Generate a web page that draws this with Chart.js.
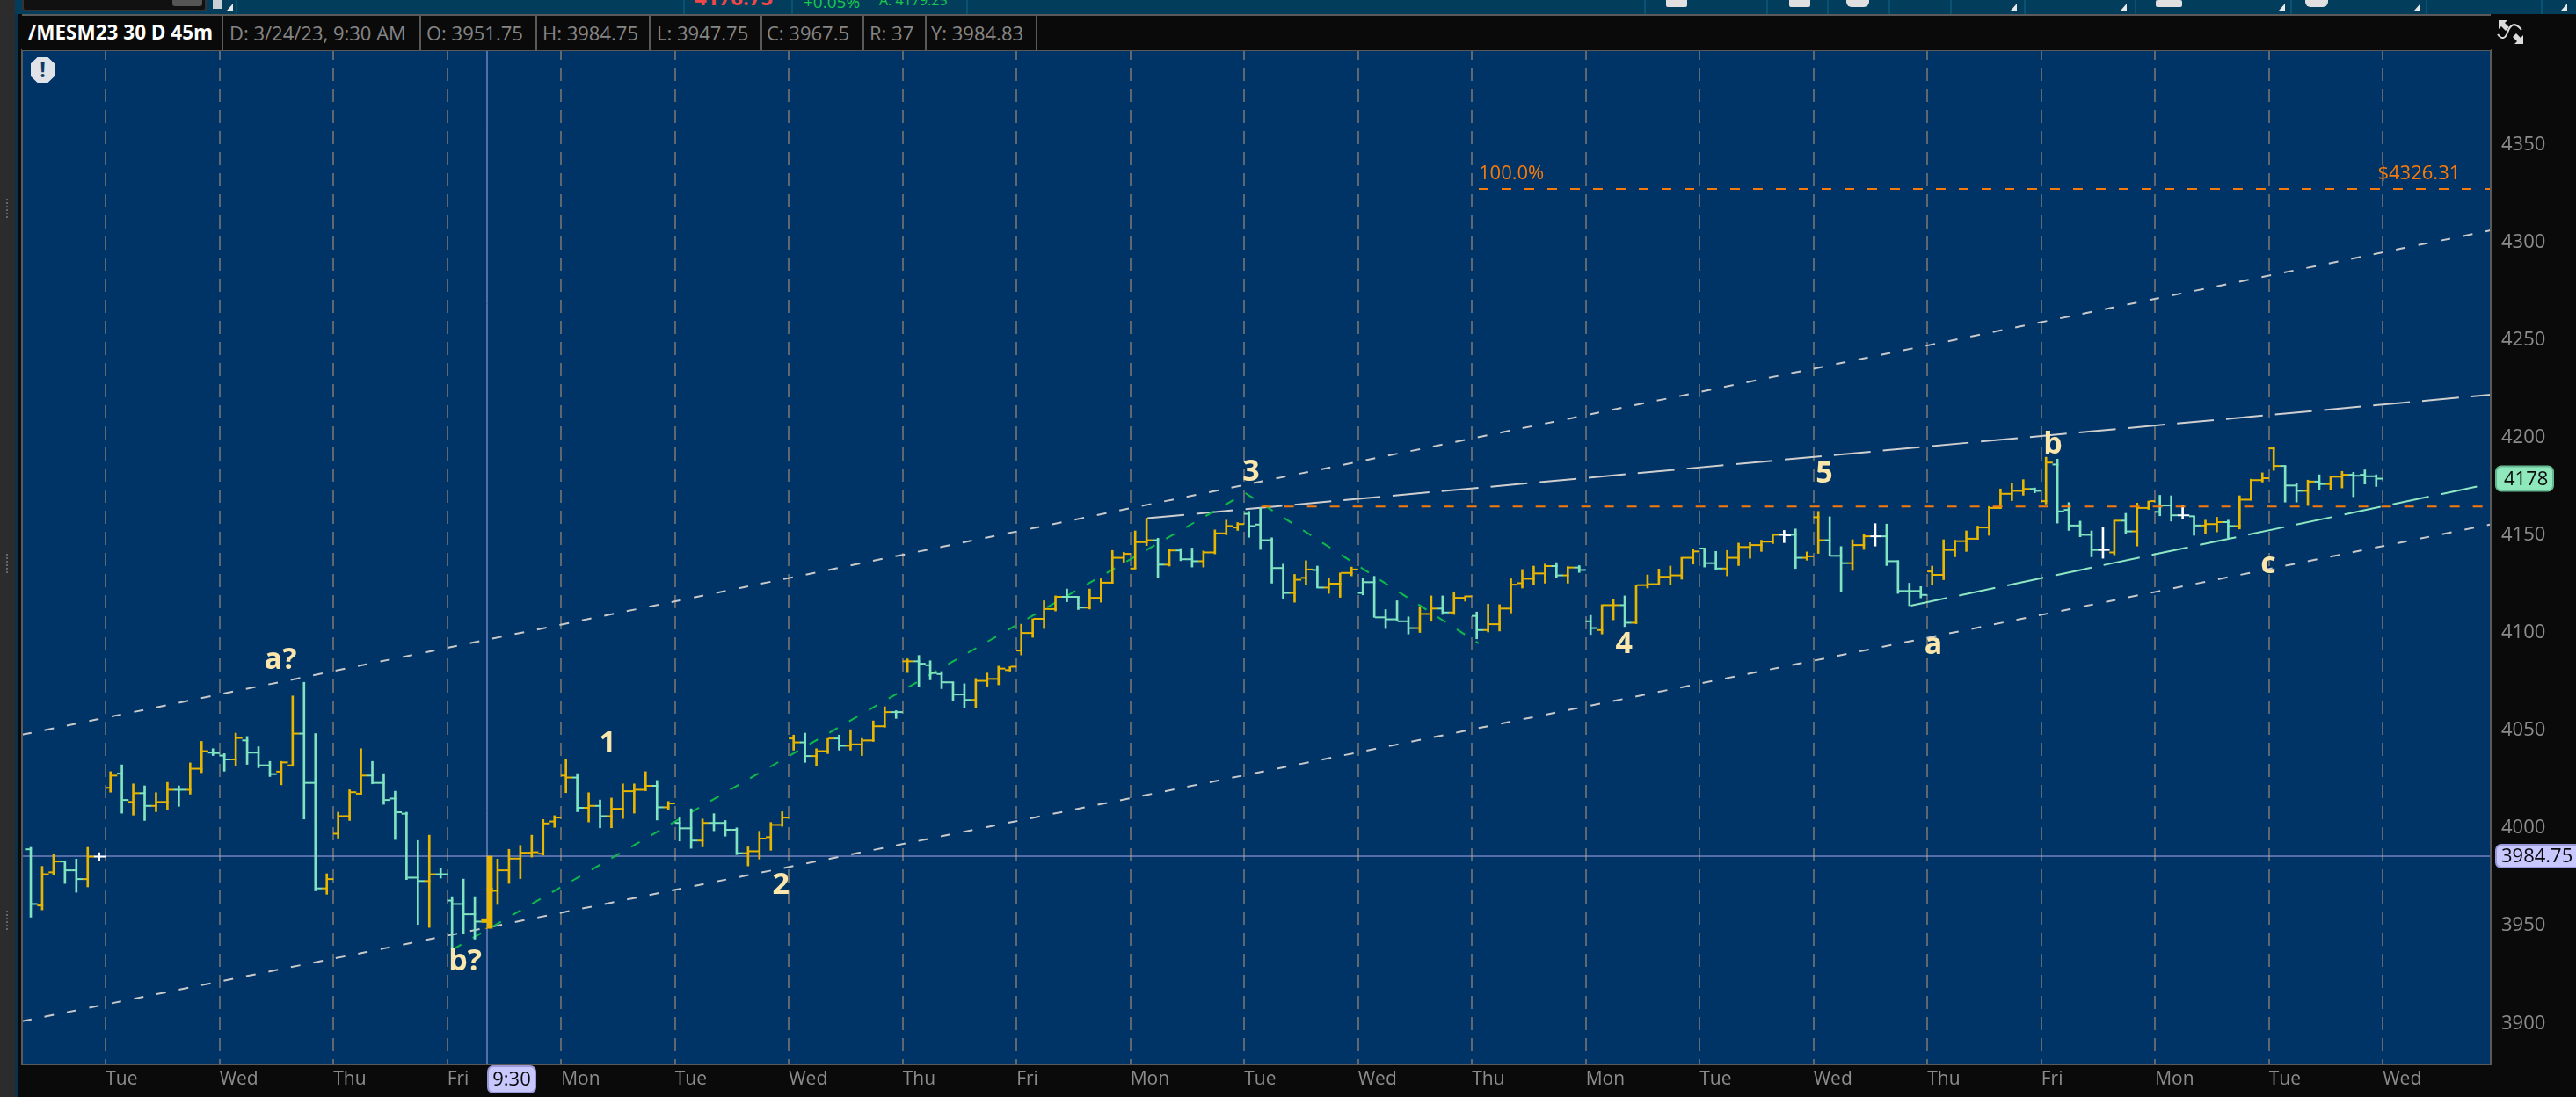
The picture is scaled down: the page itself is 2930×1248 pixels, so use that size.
<!DOCTYPE html>
<html>
<head>
<meta charset="utf-8">
<title>/MESM23 30 D 45m</title>
<script src="https://cdn.jsdelivr.net/npm/chart.js@4"></script>
<style>
  html, body { margin: 0; padding: 0; background: #0a0a0a; overflow: hidden; width: 2930px; height: 1248px; }
  body { position: relative; font-family: 'Open Sans', sans-serif; }
  canvas { position: absolute; left: 0; top: 0; }
  .abs { position: absolute; }
  #toolbar { position: absolute; left: 0; top: 0; width: 2930px; height: 16px; background: #033d5c; overflow: hidden; }
  #header { position: absolute; left: 25px; top: 16px; width: 2808px; height: 39px; background: #0a0a0a; border-top: 2px solid #5a5a5a; }
  #header span { position: absolute; top: 0; line-height: 38px; font-size: 22px; color: #858585; white-space: nowrap; }
  #header i { position: absolute; top: 0; width: 2px; height: 39px; background: #5a5a5a; }
</style>
</head>
<body>
<canvas id="chart" width="2930" height="1248"></canvas>

<div id="toolbar">
  <div class="abs" style="left:25px;top:-6px;width:206px;height:15px;background:#111;border:2px solid #333;border-radius:4px"></div>
  <div class="abs" style="left:196px;top:-4px;width:34px;height:11px;background:#555;border-radius:3px"></div>
  <div class="abs" style="left:790px;top:-20px;font-size:24px;font-weight:700;color:#f04848">4176.75</div>
  <div class="abs" style="left:914px;top:-11px;font-size:19px;color:#19c94a">+0.05%</div>
  <div class="abs" style="left:1000px;top:-11px;font-size:16px;color:#19c94a">A: 4179.25</div>
  <div class="abs" style="left:268px;top:0;width:2px;height:16px;background:#0a5272"></div>
  <div class="abs" style="left:777px;top:0;width:2px;height:16px;background:#0a5272"></div>
  <div class="abs" style="left:900px;top:0;width:2px;height:16px;background:#0a5272"></div>
  <div class="abs" style="left:1099px;top:0;width:2px;height:16px;background:#0a5272"></div>
  <div class="abs" style="left:1870px;top:0;width:2px;height:16px;background:#0a5272"></div>
  <div class="abs" style="left:2009px;top:0;width:2px;height:16px;background:#0a5272"></div>
  <div class="abs" style="left:2078px;top:0;width:2px;height:16px;background:#0a5272"></div>
  <div class="abs" style="left:2148px;top:0;width:2px;height:16px;background:#0a5272"></div>
  <div class="abs" style="left:2218px;top:0;width:2px;height:16px;background:#0a5272"></div>
  <div class="abs" style="left:2302px;top:0;width:2px;height:16px;background:#0a5272"></div>
  <div class="abs" style="left:2428px;top:0;width:2px;height:16px;background:#0a5272"></div>
  <div class="abs" style="left:2605px;top:0;width:2px;height:16px;background:#0a5272"></div>
  <div class="abs" style="left:2759px;top:0;width:2px;height:16px;background:#0a5272"></div>
  <div class="abs" style="left:2890px;top:0;width:2px;height:16px;background:#0a5272"></div>
  <div class="abs" style="left:1895px;top:-4px;width:24px;height:12px;background:#e0e0e0;border-radius:2px"></div>
  <div class="abs" style="left:2035px;top:-4px;width:24px;height:12px;background:#e0e0e0;border-radius:2px"></div>
  <div class="abs" style="left:2100px;top:-4px;width:26px;height:12px;background:#e0e0e0;border-radius:0 0 6px 6px"></div>
  <div class="abs" style="left:2452px;top:0;width:30px;height:8px;background:#e0e0e0;border-radius:2px"></div>
  <div class="abs" style="left:2622px;top:-4px;width:26px;height:12px;background:#e0e0e0;border-radius:0 0 6px 6px"></div>
  <svg class="abs" style="left:0;top:0" width="2930" height="16">
    <path d="M242 0h10v10h-10z M247 3h5v5h-5z" fill="#c8d0d6"/>
    <path d="M258 12l7-8v8z M2287 12l7-8v8z M2412 12l7-8v8z M2592 12l7-8v8z M2746 12l7-8v8z M2913 12l7-8v8z" fill="#e8e8e8"/>
  </svg>
</div>

<div id="header">
  <span style="left:7px;font-weight:700;color:#fff;font-size:22.5px">/MESM23 30 D 45m</span><i style="left:227px"></i>
  <span style="left:236px">D: 3/24/23, 9:30 AM</span><i style="left:452px"></i>
  <span style="left:460px">O: 3951.75</span><i style="left:584px"></i>
  <span style="left:592px">H: 3984.75</span><i style="left:713px"></i>
  <span style="left:722px">L: 3947.75</span><i style="left:840px"></i>
  <span style="left:847px">C: 3967.5</span><i style="left:956px"></i>
  <span style="left:964px">R: 37</span><i style="left:1027px"></i>
  <span style="left:1034px">Y: 3984.83</span><i style="left:1153px"></i>
</div>

<div class="abs" style="left:0;top:0;width:17px;height:1248px;background:#2c2c2c"></div>
<div class="abs" style="left:17px;top:16px;width:3px;height:1232px;background:#0b3248"></div>
<div class="abs" style="left:7px;top:226px;width:3px;height:22px;border-left:2px dotted #666"></div>
<div class="abs" style="left:7px;top:630px;width:3px;height:22px;border-left:2px dotted #666"></div>
<div class="abs" style="left:7px;top:1036px;width:3px;height:22px;border-left:2px dotted #666"></div>

<!-- alert badge -->
<div class="abs" style="left:35px;top:65px;width:27px;height:29px;background:#dfe3e8;clip-path:polygon(28% 0,72% 0,100% 25%,100% 75%,72% 100%,28% 100%,0 75%,0 25%);
  text-align:center;font-size:23px;line-height:29px;font-weight:700;color:#0f3a66">!</div>

<!-- expand icon in the top right corner -->
<svg class="abs" style="left:2840px;top:20px" width="32" height="32" viewBox="0 0 32 32">
  <path d="M1 1h10l-3 3 5 5-4 4-5-5-3 3z" transform="translate(1,2)" fill="#dcdcdc"/>
  <path d="M30 30h-10l3-3-5-5 4-4 5 5 3-3z" fill="#dcdcdc"/>
  <path d="M1 19c5 7 9 4 11-2s6-12 12-7c2 1 3 3 4 4" fill="none" stroke="#dcdcdc" stroke-width="2"/>
</svg>

<script>
// 45 minute bars
const opens = [
  3988.25, 3959.5, 3976.5, 3982, 3977.5, 3973, 3984.5,
  4019.75, 4027, 4012.5, 4017, 4010.5, 4012.5, 4018.75, 4018.75, 4029.5,
  4037.75, 4036.25, 4034.25, 4044, 4037.75, 4031.25, 4028, 4031.25, 4047.5, 4022.25, 3968.25,
  3996.25, 4005.25, 4016.75, 4026, 4022.25, 4014.25, 4006.5, 3973.75, 3972, 3975.5,
  3962, 3960.25, 3955, 3951.75, 3967, 3977.5, 3983.5, 3986.5, 3986, 4002.5,
  4026, 4025, 4009.5, 4010.5, 4005.25, 4009, 4018, 4018.75, 4020.75, 4009.75,
  4001.75, 3999, 3992.75, 4001.75, 4001.75, 3998.25, 3986.25, 3987.25, 3994.5, 4000.75,
  4045, 4043, 4036, 4038.5, 4045, 4041.25, 4042, 4044, 4051.25, 4058.5,
  4084.5, 4084.5, 4082.5, 4078, 4073.75, 4067.5, 4064.75, 4074.5, 4075.5, 4080,
  4090, 4099, 4106.25, 4111.25, 4117.5, 4117.5, 4112, 4117, 4124.75, 4137.5,
  4132, 4145.5, 4146.5, 4134, 4141.25, 4136.75, 4135.75, 4140.25, 4150, 4153,
  4160, 4154.5, 4146.5, 4132.25, 4119.5, 4127.25, 4131.25, 4122.25, 4124.25, 4129.75,
  4119.5, 4125, 4107, 4106, 4105, 4101.5, 4108.75, 4111.5, 4109.5, 4117,
  4107.75, 4100.5, 4103.5, 4111.5, 4124.5, 4126.75, 4129.5, 4133.25, 4128.5, 4132.5,
  4105, 4100.5, 4113.25, 4113.25, 4104.25, 4123.5, 4124, 4127.75, 4128.5, 4137.5,
  4142.25, 4134.75, 4132, 4137.5, 4143, 4144, 4145.75, 4149.25, 4149.25, 4137.5,
  4158.25, 4146.5, 4138.5, 4134.75, 4144, 4148.5, 4148.5, 4135.75, 4120.5, 4120.5,
  4130.5, 4128.75, 4141.5, 4146, 4147.25, 4153, 4163, 4170.25, 4171.75, 4172.75,
  4166.5, 4185.25, 4162, 4154, 4149.25, 4141.5, 4140.25, 4156.5, 4151, 4163,
  4161, 4164.25, 4159.25, 4158.75, 4154, 4154.75, 4155.75, 4153.75, 4167.25, 4177.25,
  4193.5, 4184.5, 4174.5, 4171.75, 4176.5, 4175.25, 4179, 4180, 4180, 4179.25
];
const highs = [
  3989.25, 3979.5, 3985.75, 3982.25, 3983.25, 3989.25, 3986.5,
  4028, 4031.5, 4021.75, 4020.75, 4017.25, 4022.5, 4020.75, 4032.5, 4043.5,
  4039.75, 4037.25, 4047.75, 4046, 4040.75, 4033.25, 4033.25, 4066.75, 4073.75, 4047.5, 3975.75,
  4007.25, 4018.75, 4039.75, 4033.25, 4027, 4018, 4007.25, 3992.75, 3995.5, 3978.5,
  3964, 3973, 3964, 3984.75, 3983.25, 3988.25, 3990.25, 3995.5, 4003.5, 4005.5,
  4034.5, 4027, 4017.25, 4013.5, 4014.5, 4021.75, 4021.75, 4028, 4023.5, 4012.75,
  4004.5, 4009, 4003.75, 4006.5, 4003, 3999.25, 3989.5, 3997.5, 4002, 4007.5,
  4046.75, 4047.75, 4039.75, 4045, 4046.75, 4049.5, 4045, 4054, 4061.25, 4059.25,
  4085.75, 4087.5, 4084.75, 4079.25, 4073.75, 4073, 4075.75, 4078.5, 4082, 4081.75,
  4103.5, 4106.25, 4115.5, 4118, 4121.5, 4117.75, 4121.5, 4126.75, 4141.25, 4140.25,
  4151.25, 4157.75, 4147.5, 4141.75, 4142.25, 4142.5, 4141, 4151.75, 4156.75, 4155.5,
  4161.25, 4163.25, 4147.75, 4134.25, 4129, 4136, 4133.25, 4127.25, 4129.75, 4132.75,
  4127.25, 4128, 4111, 4115.5, 4107.25, 4112.5, 4118, 4118, 4120, 4118,
  4109.75, 4113.75, 4113.5, 4126.75, 4131.5, 4133.25, 4134.25, 4135, 4133, 4133.5,
  4108, 4113.5, 4116.25, 4118, 4123.5, 4128.75, 4131.75, 4133.25, 4137.75, 4141.75,
  4142.25, 4140.75, 4141.25, 4145, 4145.25, 4146.5, 4149.5, 4151.5, 4152.25, 4140.5,
  4161.25, 4158.5, 4143.25, 4146.75, 4149.5, 4155, 4154.75, 4136, 4124.5, 4122.75,
  4133.25, 4146.75, 4146.5, 4151.25, 4153.75, 4163.75, 4172.75, 4175.75, 4177.5, 4173.25,
  4189, 4188, 4165.75, 4156.25, 4151.25, 4153, 4156.75, 4160.25, 4165.5, 4166.5,
  4169.5, 4169.25, 4164.5, 4158.75, 4156.75, 4158.25, 4156.75, 4169.25, 4177.75, 4181,
  4194.25, 4184.5, 4175.5, 4177.25, 4180, 4179.25, 4181.75, 4181.25, 4182.5, 4180
];
const lows = [
  3953.5, 3957.25, 3975.25, 3970.75, 3966.25, 3969, 3982.5,
  4017.5, 4006.75, 4005.75, 4003, 4007.5, 4008.5, 4010.25, 4016.5, 4027.5,
  4036.25, 4028.25, 4031, 4031.75, 4030, 4025.5, 4021.25, 4030.75, 4003.75, 3967, 3965.25,
  3994, 4003, 4016.5, 4021.75, 4011.25, 3993.25, 3972.75, 3949.75, 3948.25, 3973.5,
  3937, 3945.25, 3942.25, 3947.75, 3960, 3970.75, 3973.25, 3984.25, 3985.25, 3999.5,
  4017.25, 4007.5, 4002.25, 3999.25, 3999.25, 4004, 4006.75, 4018.25, 4003.25, 4008.5,
  3992.5, 3988.75, 3989.5, 3997.75, 3995, 3985.5, 3979.75, 3983.25, 3987.75, 4000,
  4039, 4032.75, 4031, 4037.25, 4039, 4039, 4036.25, 4043.5, 4050.75, 4055.25,
  4078.75, 4071.5, 4075, 4070.5, 4064.5, 4060.75, 4060.75, 4071.5, 4072.5, 4079.5,
  4087.75, 4096.75, 4101.25, 4110.25, 4115, 4111, 4111.25, 4114.75, 4124.5, 4135.25,
  4132, 4143.75, 4127.5, 4133.25, 4136, 4132.75, 4132.75, 4139.5, 4149.25, 4151.5,
  4148, 4141.75, 4124.5, 4116.5, 4114.75, 4123.75, 4122, 4119.25, 4117.25, 4128.25,
  4118.5, 4107, 4101.25, 4105, 4098.5, 4099.25, 4105, 4108.5, 4108.5, 4115.25,
  4096, 4099.5, 4100, 4109.25, 4122, 4123.5, 4124.5, 4127.5, 4124.5, 4130,
  4098.25, 4098.5, 4105.75, 4102.25, 4103.75, 4122, 4123.75, 4123.75, 4126.5, 4134.25,
  4132.75, 4131.25, 4128.25, 4133.5, 4137.25, 4140.75, 4144.75, 4145.25, 4132, 4136.25,
  4139.75, 4138.5, 4120, 4131, 4141.75, 4143.5, 4133.5, 4119.25, 4113, 4117,
  4123.75, 4126.25, 4138, 4140.75, 4147, 4149, 4162.75, 4166.75, 4169.5, 4170.75,
  4165, 4155.25, 4151.5, 4148.25, 4138, 4137.25, 4139, 4150, 4143.5, 4162.25,
  4159, 4156.25, 4157.5, 4149, 4150, 4150.75, 4147.75, 4152.25, 4167, 4176.25,
  4182.25, 4166, 4166, 4164.25, 4172.5, 4172.5, 4173.25, 4168.75, 4175.25, 4174
];
const closes = [
  3960.25, 3975.5, 3982, 3977.5, 3973, 3984.5, 3984.5,
  4026, 4013.5, 4017, 4010.5, 4012.5, 4018.75, 4018.75, 4029.5, 4038.5,
  4037.5, 4034.25, 4045.25, 4037.75, 4031.25, 4026.75, 4032.75, 4047.5, 4022.25, 3968.25, 3973,
  4005.25, 4017.5, 4026, 4022.25, 4013.5, 4007.25, 3973.75, 3972, 3975.5, 3975.5,
  3960.25, 3955, 3951.25, 3967.5, 3977.5, 3983.5, 3986.5, 3986.75, 4001.5, 4004.5,
  4025, 4009.5, 4010.5, 4005.25, 4009, 4018, 4018.75, 4020.75, 4009.75, 4011.75,
  3999, 3992.75, 4001.75, 4001.75, 3998.25, 3986.25, 3987.25, 3993.75, 4000.75, 4004.5,
  4043, 4036, 4038.5, 4045, 4041.25, 4042, 4044, 4051.25, 4058.5, 4058.5,
  4084.5, 4083.25, 4078.5, 4073.75, 4067.5, 4064.75, 4074.5, 4075.5, 4080.75, 4081.75,
  4099, 4106.25, 4111.25, 4117.5, 4117.5, 4112, 4117, 4124.75, 4137.5, 4139.5,
  4145.5, 4146.5, 4134, 4141.25, 4136.75, 4135.75, 4140.25, 4150, 4153.75, 4154.75,
  4153.75, 4146.5, 4132.25, 4119.5, 4126.25, 4131.5, 4122.25, 4124.25, 4129.75, 4131.5,
  4125, 4107, 4106, 4105, 4101.5, 4108.75, 4111.5, 4109.5, 4117, 4117.75,
  4100.5, 4103.5, 4111.5, 4123.75, 4126.75, 4129.5, 4133.25, 4128.5, 4132.5, 4131.25,
  4101.5, 4113.25, 4113.25, 4104.25, 4123.5, 4124, 4127.75, 4128.5, 4137.5, 4140.75,
  4134.75, 4132, 4137.5, 4143, 4144, 4145.75, 4149.25, 4149, 4137.5, 4138.25,
  4146.5, 4138.5, 4134.75, 4144, 4148.5, 4148.5, 4135.75, 4120.5, 4120.5, 4118.5,
  4128.75, 4141.5, 4146, 4147.25, 4153, 4163, 4170.25, 4171.75, 4172.75, 4171.75,
  4186.25, 4161.25, 4154, 4149.25, 4141.5, 4141.5, 4156.5, 4151, 4163, 4166.5,
  4164.25, 4159.25, 4159.25, 4154, 4154.75, 4155.75, 4153.75, 4167.25, 4177.25, 4178.25,
  4184.5, 4174.5, 4171.75, 4176.5, 4175.25, 4179, 4180, 4179.5, 4179.25, 4178
];
// u = up (gold), d = down (mint), n = unchanged (white)
const tones = (
  'duuddun' + 'ududuuduu' + 'ddudddUUddU' + 'UUUddddd' + 'Ud' +
  'dddUUUUUUU' + 'UdUdUUUUdU' + 'ddUdddUUUU' + 'UdUUdUUUUd' + 'UdddddUUUU' +
  'UUUUddUUUU' + 'UUdUddUUUU' + 'ddddUUdUUU' + 'dddddUUdUU' + 'dUUUUUUdUd' +
  'dUUdUUUUUU' + 'ddUUUUUndU' + 'UddUUndddd' + 'UUUUUUUUUd' + 'UddddnUdUU' +
  'ddndUUdUUU' + 'UddUdUUddd'
).toLowerCase().split('');

const sessionBreaks = [6.5, 16.5, 26.5, 36.5, 46.5, 56.5, 66.5, 76.5, 86.5, 96.5, 106.5,
  116.5, 126.5, 136.5, 146.5, 156.5, 166.5, 176.5, 186.5, 196.5, 206.5];
const sessionLabels = ['Tue', 'Wed', 'Thu', 'Fri', 'Mon', 'Tue', 'Wed', 'Thu', 'Fri', 'Mon', 'Tue',
  'Wed', 'Thu', 'Mon', 'Tue', 'Wed', 'Thu', 'Fri', 'Mon', 'Tue', 'Wed'];
const priceTicks = [3900, 3950, 4000, 4050, 4100, 4150, 4200, 4250, 4300, 4350];

const selectedBar = 40;
const selectedHigh = 3984.75;
const selectedTime = '9:30';
const lastClose = 4178;
const fibPrice = 4326.31;
const pivotPrice = 4163.75;

// drawn studies, [bar, price] at each end
const upperChannel = [[-0.85, 4046.9], [215.98, 4305.15]];
const lowerChannel = [[-0.85, 3900.2], [215.98, 4154.6]];
const resistance = [[98, 4157.75], [215.98, 4221]];
const support = [[165.05, 4113], [214.8, 4174]];
const waveUp = [[37, 3937], [106.6, 4170.6]];
const waveDown = [[106.6, 4170.6], [127.1, 4093.65]];
const fibLevel = [[127.1, fibPrice], [215.98, fibPrice]];
const pivotLevel = [[108, pivotPrice], [215.3, pivotPrice]];

const waveTexts = ['a?', 'b?', '1', '2', '3', '4', '5', 'a', 'b', 'c'];
const waveBars = [21.85, 38.07, 50.58, 65.8, 107.1, 139.85, 157.45, 167.03, 177.53, 196.45];
const wavePrices = [4080.75, 3926.25, 4037.85, 3965.4, 4176.9, 4088.7, 4176, 4088.25, 4190.85, 4129.65];

const GOLD = '#e8b500';
const MINT = '#80e4c0';
const toneColor = { u: GOLD, d: MINT, n: '#ffffff' };
const barColors = tones.map(t => toneColor[t]);
const ORANGE = '#f67b0c';
const LILAC = '#a9a9e8';
const CREAM = '#fbe7ab';
const AXIS_TEXT = '#8c8c8c';
const FONT = "'Open Sans', sans-serif";

function toPoints(line) {
  return line.map(p => ({ x: p[0], y: p[1] }));
}

function studyLine(line, color, dash, order, width) {
  return {
    type: 'line',
    data: toPoints(line),
    borderColor: color,
    borderWidth: width || 2,
    borderDash: dash,
    pointRadius: 0,
    tension: 0,
    order: order,
  };
}

function pill(c, x, y, w, h, fill, edge) {
  c.beginPath();
  c.roundRect(x, y, w, h, 6);
  c.fillStyle = fill;
  c.fill();
  c.strokeStyle = edge;
  c.lineWidth = 2;
  c.stroke();
}

const chromePlugin = {
  id: 'chrome',
  beforeDraw(chart) {
    const { ctx: c, chartArea: a } = chart;
    c.save();
    c.fillStyle = '#003366';
    c.fillRect(a.left, a.top, a.right - a.left, a.bottom - a.top);
    c.restore();
  },
  afterDatasetsDraw(chart) {
    const { ctx: c, chartArea: a, scales: { x, y } } = chart;
    c.save();
    // plot frame
    c.strokeStyle = '#5a5a5a';
    c.lineWidth = 2;
    c.strokeRect(a.left, a.top, a.right - a.left, a.bottom - a.top);

    // wave counts
    c.fillStyle = CREAM;
    c.font = "bold 34px " + FONT;
    c.textAlign = 'center';
    c.textBaseline = 'alphabetic';
    waveTexts.forEach((t, i) => {
      c.fillText(t, x.getPixelForValue(waveBars[i]), y.getPixelForValue(wavePrices[i]));
    });

    // fib level captions
    c.fillStyle = ORANGE;
    c.font = "22px " + FONT;
    c.textAlign = 'left';
    c.fillText('100.0%', x.getPixelForValue(fibLevel[0][0]), y.getPixelForValue(fibPrice + 4.9));
    c.textAlign = 'right';
    c.fillText('$' + fibPrice.toFixed(2), x.getPixelForValue(213.3), y.getPixelForValue(fibPrice + 4.9));

    // price and time bubbles
    c.font = "22px " + FONT;
    c.textAlign = 'left';
    c.textBaseline = 'middle';
    let py = y.getPixelForValue(lastClose);
    pill(c, 2839, py - 14, 65, 28, '#8ee8bc', '#66b892');
    c.fillStyle = '#0a0a0a';
    c.fillText(String(lastClose), 2848, py + 1);

    py = y.getPixelForValue(selectedHigh);
    pill(c, 2839, py - 13, 100, 26, '#c8c8ff', '#9a9ad8');
    c.fillStyle = '#0a0a0a';
    c.fillText(selectedHigh.toFixed(2), 2845, py + 1);

    const px = x.getPixelForValue(selectedBar);
    pill(c, px + 1, a.bottom + 2, 54, 30, '#c8c8ff', '#9a9ad8');
    c.fillStyle = '#0a0a0a';
    c.textAlign = 'center';
    c.fillText(selectedTime, px + 28, a.bottom + 18);
    c.restore();
  }
};

const wickData = opens.map((_, i) => ({ x: i, y: [lows[i], highs[i]] }));

new Chart(document.getElementById('chart'), {
  type: 'bar',
  data: {
    datasets: [
      // high-low wicks
      {
        data: wickData.map((w, i) => i === selectedBar ? { x: i, y: [w.y[0], w.y[0]] } : w),
        backgroundColor: barColors,
        barThickness: 2,
        order: 3,
      },
      // the bar under the crosshair is drawn heavier
      {
        data: [wickData[selectedBar]],
        backgroundColor: GOLD,
        barThickness: 6,
        order: 3,
      },
      // open ticks on the left, close ticks on the right
      {
        type: 'line',
        showLine: false,
        data: opens.map((v, i) => ({ x: i - 0.25, y: v })),
        pointStyle: 'line',
        pointRadius: 3.4,
        pointBorderColor: barColors,
        pointBorderWidth: ctx => ctx.dataIndex === selectedBar ? 5 : 2,
        order: 2,
      },
      {
        type: 'line',
        showLine: false,
        data: closes.map((v, i) => ({ x: i + 0.25, y: v })),
        pointStyle: 'line',
        pointRadius: 3.4,
        pointBorderColor: barColors,
        pointBorderWidth: ctx => ctx.dataIndex === selectedBar ? 5 : 2,
        order: 2,
      },
      studyLine(upperChannel, '#c9c9c9', [11, 15], 6),
      studyLine(lowerChannel, '#c9c9c9', [11, 15], 6),
      studyLine(resistance, '#cfcfcf', [42, 14], 6),
      studyLine(support, '#8ee8c4', [42, 14], 5),
      studyLine(waveUp, '#0cbb4a', [11, 15], 5),
      studyLine(waveDown, '#0cbb4a', [11, 15], 5),
      studyLine(fibLevel, ORANGE, [11, 15], 1),
      studyLine(pivotLevel, ORANGE, [11, 15], 1),
      // crosshair
      studyLine([[-0.85, selectedHigh], [215.98, selectedHigh]], LILAC, [], 7, 1),
      studyLine([[selectedBar, 3878.1], [selectedBar, 4397.4]], LILAC, [], 7, 1),
    ]
  },
  options: {
    responsive: false,
    animation: false,
    devicePixelRatio: 1,
    layout: { padding: { left: 25, top: 57, right: 0, bottom: 0 } },
    plugins: { legend: { display: false }, tooltip: { enabled: false } },
    events: [],
    scales: {
      x: {
        type: 'linear',
        min: -0.85,
        max: 215.98,
        offset: false,
        afterFit: s => { s.height = 37; },
        afterBuildTicks: s => { s.ticks = sessionBreaks.map(v => ({ value: v })); },
        grid: { offset: false, color: '#5f6871', lineWidth: 2, drawTicks: false },
        border: { display: false, dash: [15, 9], dashOffset: 4 },
        ticks: {
          autoSkip: false,
          maxRotation: 0,
          align: 'start',
          padding: 4,
          color: AXIS_TEXT,
          font: { family: FONT, size: 21 },
          callback: v => sessionLabels[sessionBreaks.indexOf(v)],
        },
      },
      y: {
        position: 'right',
        min: 3878.1,
        max: 4397.4,
        afterFit: s => { s.width = 97; },
        afterBuildTicks: s => { s.ticks = priceTicks.map(v => ({ value: v })); },
        grid: { display: false },
        border: { display: false },
        ticks: {
          padding: 4,
          labelOffset: 2,
          color: AXIS_TEXT,
          font: { family: FONT, size: 22 },
          callback: v => String(v),
        },
      },
    },
  },
  plugins: [chromePlugin],
});
</script>
</body>
</html>
